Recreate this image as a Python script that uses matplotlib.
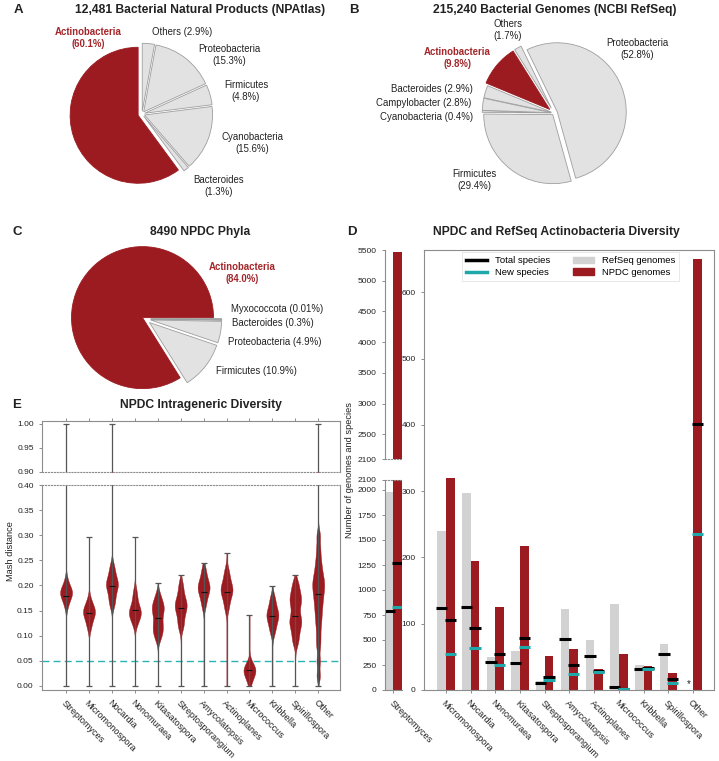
import numpy as np
import matplotlib
matplotlib.use("Agg")
import matplotlib.pyplot as plt
from matplotlib.lines import Line2D
from matplotlib.patches import Patch

plt.rcParams["font.family"] = ["Liberation Sans", "DejaVu Sans"]

W, H = 719, 761
RED = "#9b1b20"
GRAY_PIE = "#e2e2e2"
GRAY_EDGE = "#9e9e9e"
GRAY_BAR = "#d2d2d2"
CYAN = "#1fa8aa"
SPINE = "#8c8c8c"
TXT = "#222222"

# ---- A: NPAtlas phyla (counter-clockwise from top) ----
npatlas_phyla = ["Actinobacteria", "Bacteroides", "Cyanobacteria", "Firmicutes",
                 "Proteobacteria", "Others"]
npatlas_pct = [60.1, 1.3, 15.6, 4.8, 15.3, 2.9]

# ---- B: RefSeq phyla (clockwise) ----
refseq_phyla = ["Proteobacteria", "Firmicutes", "Cyanobacteria", "Campylobacter",
                "Bacteroides", "Actinobacteria", "Others"]
refseq_pct = [52.8, 29.4, 0.4, 2.8, 2.9, 9.8, 1.7]

# ---- C: NPDC phyla ----
npdc_phyla = ["Actinobacteria", "Firmicutes", "Proteobacteria", "Bacteroides", "Myxococcota"]
npdc_pct = [84.0, 10.9, 4.9, 0.3, 0.01]

# ---- D: genomes and species per genus ----
strep_refseq_genomes = 1980
strep_npdc_genomes = 5460
strep_refseq_species = 790
strep_npdc_species = 1270
strep_new_species = 830

genera_d = ["Micromonospora", "Nocardia", "Nonomuraea", "Kitasatospora",
            "Streptosporangium", "Amycolatopsis", "Actinoplanes", "Micrococcus",
            "Kribbella", "Spirillospora", "Other"]
refseq_genomes = [240, 298, 50, 59, 14, 122, 75, 130, 38, 70, np.nan]
npdc_genomes = [320, 194, 125, 217, 51, 62, 31, 54, 36, 25, 650]
refseq_species = [123, 125, 42, 40, 11, 77, 52, 5, 31, 55, np.nan]
npdc_species = [106, 94, 54, 79, 19, 37, 29, 2, 33, 16, 401]
npdc_new_species = [55, 64, 37, 65, 15, 24, 27, 1.5, 32, 10, 236]

# ---- E: Mash distance per genus ----
genera_e = ["Streptomyces", "Micromonospora", "Nocardia", "Nonomuraea", "Kitasatospora",
            "Streptosporangium", "Amycolatopsis", "Actinoplanes", "Micrococcus",
            "Kribbella", "Spirillospora", "Other"]
mash_min = [0.0] * 12
mash_max = [1.0, 0.297, 1.0, 0.297, 0.205, 0.221, 0.244, 0.264, 0.141, 0.198, 0.221, 1.0]
mash_median = [0.179, 0.145, 0.199, 0.151, 0.135, 0.156, 0.188, 0.188, 0.031, 0.139, 0.139, 0.183]
mash_body = [
    [0.212, 0.2, 0.194, 0.19, 0.188, 0.186, 0.183, 0.18, 0.175, 0.168, 0.158],
    [0.172, 0.162, 0.155, 0.151, 0.148, 0.145, 0.141, 0.135, 0.125, 0.115],
    [0.24, 0.228, 0.218, 0.21, 0.205, 0.201, 0.197, 0.19, 0.18, 0.17, 0.16],
    [0.19, 0.178, 0.166, 0.158, 0.152, 0.148, 0.145, 0.142, 0.138, 0.13, 0.122],
    [0.182, 0.17, 0.162, 0.157, 0.152, 0.145, 0.136, 0.126, 0.118, 0.112, 0.104, 0.094],
    [0.205, 0.192, 0.18, 0.172, 0.166, 0.161, 0.157, 0.152, 0.145, 0.135, 0.124, 0.115],
    [0.235, 0.222, 0.212, 0.205, 0.2, 0.196, 0.192, 0.187, 0.18, 0.17, 0.158],
    [0.232, 0.22, 0.21, 0.202, 0.196, 0.192, 0.188, 0.183, 0.175, 0.165, 0.152],
    [0.046, 0.04, 0.036, 0.033, 0.031, 0.029, 0.026, 0.021, 0.014, 0.006],
    [0.178, 0.168, 0.158, 0.15, 0.145, 0.141, 0.137, 0.132, 0.124, 0.115, 0.105],
    [0.207, 0.195, 0.184, 0.176, 0.17, 0.163, 0.152, 0.14, 0.132, 0.127, 0.12, 0.11,
     0.098, 0.085],
    [0.3, 0.275, 0.255, 0.24, 0.228, 0.218, 0.21, 0.203, 0.196, 0.188, 0.18, 0.17, 0.16,
     0.148, 0.135, 0.12, 0.1, 0.08, 0.05, 0.02],
]


def px_axes(fig, left, top, right, bottom):
    return fig.add_axes([left / W, 1 - bottom / H, (right - left) / W, (bottom - top) / H])


def ftext(fig, x, y, s, **kw):
    kw.setdefault("color", TXT)
    return fig.text(x / W, 1 - y / H, s, **kw)


def style_spines(ax, lw=0.8):
    for sp in ax.spines.values():
        sp.set_color(SPINE)
        sp.set_linewidth(lw)
    ax.tick_params(colors=SPINE, labelcolor=TXT, length=2.5, width=0.7, labelsize=6)


def draw_pie(fig, cx, cy, r, values, names, startangle, counterclock, explode):
    side = 2.6 * r
    ax = px_axes(fig, cx - side / 2, cy - side / 2, cx + side / 2, cy + side / 2)
    colors = [RED if n == "Actinobacteria" else GRAY_PIE for n in names]
    wedges, _ = ax.pie(values, explode=explode, colors=colors, startangle=startangle,
                       counterclock=counterclock,
                       wedgeprops=dict(linewidth=0.6, edgecolor=GRAY_EDGE))
    for w, n in zip(wedges, names):
        if n == "Actinobacteria":
            w.set_edgecolor(RED)
    ax.set_xlim(-1.3, 1.3)
    ax.set_ylim(-1.3, 1.3)
    return ax


def kde_stats(body, lo, hi, med, bw=0.0115):
    coords = np.linspace(lo, hi, 1500)
    b = np.asarray(body)
    vals = np.exp(-0.5 * ((coords[:, None] - b[None, :]) / bw) ** 2).sum(axis=1)
    return dict(coords=coords, vals=vals, mean=b.mean(), median=med, min=lo, max=hi)


fig = plt.figure(figsize=(W / 100, H / 100), dpi=100)

title_kw = dict(fontsize=8.7, fontweight="bold", ha="center", va="center")
letter_kw = dict(fontsize=9.5, fontweight="bold", ha="center", va="center")
lab_kw = dict(fontsize=6.9, va="center")
act_kw = dict(fontsize=6.9, va="center", ha="center", fontweight="bold", color="#a3262a")
xlab_kw = dict(rotation=-45, ha="left", va="top", rotation_mode="anchor", fontsize=6.6)

# ---------------- A ----------------
draw_pie(fig, 142, 114, 68, npatlas_pct, npatlas_phyla, 90, True,
         [0.06, 0.04, 0.04, 0.04, 0.04, 0.04])
ftext(fig, 18, 10, "A", **letter_kw)
ftext(fig, 200, 10, "12,481 Bacterial Natural Products (NPAtlas)", **title_kw)
ftext(fig, 88, 38, "Actinobacteria\n(60.1%)", **act_kw)
ftext(fig, 182, 32, "Others (2.9%)", ha="center", **lab_kw)
ftext(fig, 229, 55, "Proteobacteria\n(15.3%)", ha="center", **lab_kw)
ftext(fig, 246, 91, "Firmicutes\n(4.8%)", ha="center", **lab_kw)
ftext(fig, 252, 143, "Cyanobacteria\n(15.6%)", ha="center", **lab_kw)
ftext(fig, 219, 186, "Bacteroides\n(1.3%)", ha="center", **lab_kw)

# ---------------- B ----------------
draw_pie(fig, 554, 113, 69, refseq_pct, refseq_phyla, 116, False,
         [0.05, 0.03, 0.04, 0.04, 0.04, 0.08, 0.08])
ftext(fig, 354, 10, "B", **letter_kw)
ftext(fig, 555, 10, "215,240 Bacterial Genomes (NCBI RefSeq)", **title_kw)
ftext(fig, 508, 30, "Others\n(1.7%)", ha="center", **lab_kw)
ftext(fig, 637, 49, "Proteobacteria\n(52.8%)", ha="center", **lab_kw)
ftext(fig, 457, 58, "Actinobacteria\n(9.8%)", **act_kw)
ftext(fig, 473, 89, "Bacteroides (2.9%)", ha="right", **lab_kw)
ftext(fig, 471, 103, "Campylobacter (2.8%)", ha="right", **lab_kw)
ftext(fig, 473, 117, "Cyanobacteria (0.4%)", ha="right", **lab_kw)
ftext(fig, 474, 180, "Firmicutes\n(29.4%)", ha="center", **lab_kw)

# ---------------- C ----------------
draw_pie(fig, 145, 319, 71, npdc_pct, npdc_phyla, 0, True,
         [0.04, 0.08, 0.08, 0.08, 0.08])
ftext(fig, 17, 232, "C", **letter_kw)
ftext(fig, 200, 232, "8490 NPDC Phyla", **title_kw)
ftext(fig, 242, 273, "Actinobacteria\n(84.0%)", **act_kw)
ftext(fig, 231, 309, "Myxococcota (0.01%)", ha="left", **lab_kw)
ftext(fig, 232, 323, "Bacteroides (0.3%)", ha="left", **lab_kw)
ftext(fig, 228, 342, "Proteobacteria (4.9%)", ha="left", **lab_kw)
ftext(fig, 216, 371, "Firmicutes (10.9%)", ha="left", **lab_kw)

# ---------------- D ----------------
ftext(fig, 352, 232, "D", **letter_kw)
ftext(fig, 556, 232, "NPDC and RefSeq Actinobacteria Diversity", **title_kw)
ftext(fig, 349, 470, "Number of genomes and species", fontsize=6.7, rotation=90,
      ha="center", va="center")

bw = 0.35
half = 0.23
mk_lw = 2.2

ax_st_top = px_axes(fig, 385, 250, 402, 459)
ax_st_bot = px_axes(fig, 385, 480, 402, 690)
for ax in (ax_st_top, ax_st_bot):
    ax.bar([-bw / 2], [strep_refseq_genomes], bw, color=GRAY_BAR)
    ax.bar([bw / 2], [strep_npdc_genomes], bw, color=RED)
    ax.hlines([strep_refseq_species], -bw / 2 - half, -bw / 2 + half, color="k", lw=mk_lw)
    ax.hlines([strep_npdc_species], bw / 2 - half, bw / 2 + half, color="k", lw=mk_lw)
    ax.hlines([strep_new_species], bw / 2 - half, bw / 2 + half, color=CYAN, lw=mk_lw)
    ax.set_xlim(-0.36, 0.36)
    style_spines(ax)
    ax.spines["right"].set_visible(False)
ax_st_top.set_ylim(2100, 5500)
ax_st_top.set_yticks([2100, 2500, 3000, 3500, 4000, 4500, 5000, 5500])
ax_st_top.spines["top"].set_visible(False)
ax_st_top.spines["bottom"].set_linestyle(":")
ax_st_top.set_xticks([])
ax_st_bot.set_ylim(0, 2100)
ax_st_bot.set_yticks([0, 250, 500, 750, 1000, 1250, 1500, 1750, 2000, 2100])
ax_st_bot.spines["top"].set_linestyle(":")
ax_st_bot.set_xticks([0])
ax_st_bot.set_xticklabels(["Streptomyces"], **xlab_kw)

ax_d = px_axes(fig, 424, 250, 714, 690)
pos = np.arange(len(genera_d))
ax_d.bar(pos - bw / 2, refseq_genomes, bw, color=GRAY_BAR)
ax_d.bar(pos + bw / 2, npdc_genomes, bw, color=RED)
ax_d.hlines(refseq_species, pos - bw / 2 - half, pos - bw / 2 + half, color="k", lw=mk_lw)
ax_d.hlines(npdc_species, pos + bw / 2 - half, pos + bw / 2 + half, color="k", lw=mk_lw)
ax_d.hlines(npdc_new_species, pos + bw / 2 - half, pos + bw / 2 + half, color=CYAN, lw=mk_lw)
ax_d.text(pos[-1] - bw / 2, 9, "*", ha="center", va="center", fontsize=7, color=TXT)
ax_d.set_xlim(-0.89, 10.85)
ax_d.set_ylim(0, 664)
ax_d.set_yticks([0, 100, 200, 300, 400, 500, 600])
ax_d.set_xticks(pos)
style_spines(ax_d)
ax_d.set_xticklabels(genera_d, **xlab_kw)
handles = [Line2D([], [], color="k", lw=2.5), Line2D([], [], color=CYAN, lw=2.5),
           Patch(color=GRAY_BAR), Patch(color=RED)]
leg = ax_d.legend(handles, ["Total species", "New species", "RefSeq genomes", "NPDC genomes"],
                  ncol=2, loc="upper center", bbox_to_anchor=(0.505, 1.0), fontsize=6.8,
                  handlelength=2.3, columnspacing=2.4, borderaxespad=0.25,
                  labelspacing=0.3, fancybox=False)
leg.get_frame().set_edgecolor("#dddddd")
leg.get_frame().set_linewidth(0.6)

# ---------------- E ----------------
ftext(fig, 17, 405, "E", **letter_kw)
ftext(fig, 201, 405, "NPDC Intrageneric Diversity", **title_kw)
ftext(fig, 11, 551, "Mash distance", fontsize=6.7, rotation=90, ha="center", va="center")

stats = [kde_stats(b, lo, hi, md) for b, lo, hi, md in
         zip(mash_body, mash_min, mash_max, mash_median)]
pos_e = np.arange(len(genera_e))

ax_e_top = px_axes(fig, 42, 421, 340, 472)
ax_e_bot = px_axes(fig, 42, 485, 340, 690)
for ax in (ax_e_top, ax_e_bot):
    parts = ax.violin(stats, positions=pos_e, widths=0.52, showmeans=False,
                      showextrema=True, showmedians=True)
    for body in parts["bodies"]:
        body.set_facecolor(RED)
        body.set_edgecolor(RED)
        body.set_linewidth(0.3)
        body.set_alpha(1)
    for key in ("cbars", "cmins", "cmaxes"):
        parts[key].set_color("#555555")
        parts[key].set_linewidth(0.9)
    parts["cmedians"].set_color("#111111")
    parts["cmedians"].set_linewidth(0.8)
    ax.set_xlim(-1.05, 11.95)
    style_spines(ax)
ax_e_top.set_ylim(0.9, 1.006)
ax_e_top.set_yticks([0.90, 0.95, 1.00])
ax_e_top.set_yticklabels(["0.90", "0.95", "1.00"])
ax_e_top.spines["bottom"].set_linestyle(":")
ax_e_top.set_xticks(pos_e)
ax_e_top.tick_params(axis="x", bottom=False, top=True, labelbottom=False, labeltop=False)
ax_e_bot.set_ylim(-0.008, 0.40)
ax_e_bot.set_yticks(np.arange(0, 0.401, 0.05))
ax_e_bot.set_yticklabels([f"{v:.2f}" for v in np.arange(0, 0.401, 0.05)])
ax_e_bot.spines["top"].set_linestyle(":")
ax_e_bot.axhline(0.05, color="#2ab3b3", lw=1.0, ls=(0, (5, 3)), zorder=0.5)
ax_e_bot.set_xticks(pos_e)
ax_e_bot.set_xticklabels(genera_e, **xlab_kw)

fig.savefig("out.png", dpi=100)
